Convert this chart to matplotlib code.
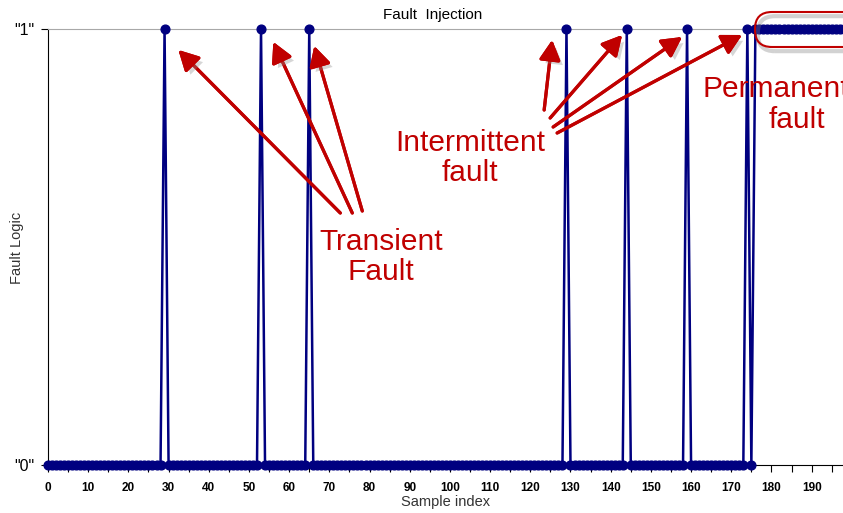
import numpy as np
import matplotlib
matplotlib.use('Agg')
import matplotlib.pyplot as plt
import matplotlib.patheffects as pe
from matplotlib.patches import FancyBboxPatch

plt.rcParams['font.family'] = ['Liberation Sans', 'DejaVu Sans']

# ---- data ----
samples = np.arange(0, 199)
transient_idx = [29, 53, 65]
intermittent_idx = [129, 144, 159, 174]
permanent_start = 176

fault = np.zeros(len(samples))
fault[transient_idx] = 1
fault[intermittent_idx] = 1
fault[samples >= permanent_start] = 1

x_ticks = np.arange(0, 200, 5)
x_labels = [str(v) if v % 10 == 0 else '' for v in x_ticks]
y_ticks = [0, 1]
y_labels = ['"0"', '"1"']

RED = '#c00000'
NAVY = '#000080'

fig = plt.figure(figsize=(8.43, 5.13), dpi=100)
ax = fig.add_axes([48/843, 48/513, 1 - 48/843, (465-29)/513])

ax.plot(samples, fault, color=NAVY, lw=1.8, marker='o', ms=6.3,
        mec=NAVY, mfc=NAVY, clip_on=False, zorder=3)

ax.set_xlim(0, 197.8)
ax.set_ylim(0, 1)
ax.set_xticks(x_ticks)
ax.set_xticklabels(x_labels, fontsize=8.5, fontweight='bold')
ax.set_yticks(y_ticks)
ax.set_yticklabels(y_labels, fontsize=11.5)
ax.tick_params(axis='x', direction='out', length=5, pad=7)
ax.tick_params(axis='y', direction='out', length=5, pad=5)

ax.spines['right'].set_visible(False)
ax.spines['top'].set_color('#a8a8a8')
ax.spines['left'].set_color('black')
ax.spines['bottom'].set_color('black')

ax.set_xlabel('Sample index', fontsize=10.5, color='#333333', labelpad=1)
fig.text(17/843, 1 - 248/513, 'Fault Logic', fontsize=10.5, color='#333333',
         rotation=90, ha='center', va='center')
fig.text(433/843, 1 - 15/513, 'Fault  Injection', fontsize=11,
         ha='center', va='center')


def px(xp, yp):
    # figure pixel -> data coords
    return ((xp - 47.5) / 4.022, (465 - yp) / 436)


shadow = [pe.withSimplePatchShadow(offset=(3, -3), shadow_rgbFace='0.55', alpha=0.35),
          pe.Normal()]
arrow_kw = dict(arrowstyle='-|>,head_length=0.6,head_width=0.32', color=RED,
                lw=2.3, mutation_scale=20, shrinkA=0, shrinkB=0,
                path_effects=shadow)

arrows = [
    ((340, 213), (178, 50)),
    ((352, 213), (273, 42)),
    ((362, 211), (314, 46)),
    ((544, 110), (552, 40)),
    ((550, 118), (622, 35)),
    ((553, 127), (682, 37)),
    ((557, 133), (742, 35)),
]
for tail, head in arrows:
    ax.annotate('', xy=px(*head), xytext=px(*tail), annotation_clip=False,
                arrowprops=arrow_kw, zorder=5)

txt_kw = dict(fontsize=21.5, color=RED, ha='center', va='center',
              linespacing=1.1, zorder=6)
ax.text(*px(381, 257), 'Transient\nFault', **txt_kw)
ax.text(*px(470, 158), 'Intermittent\nfault', **txt_kw)
ax.text(*px(776, 89), 'Permanent', **txt_kw)
ax.text(*px(797, 120), 'fault', **txt_kw)

box = FancyBboxPatch((7.55, (513 - 47) / 100), 1.05, 0.35,
                     boxstyle='round,pad=0,rounding_size=0.17',
                     transform=fig.dpi_scale_trans, fc='none', ec=RED, lw=1.5,
                     path_effects=[pe.SimpleLineShadow(offset=(2, -3), shadow_color='0.5',
                                                       alpha=0.35, linewidth=3),
                                   pe.Normal()],
                     zorder=7)
fig.patches.append(box)

fig.savefig('out.png', dpi=100)
